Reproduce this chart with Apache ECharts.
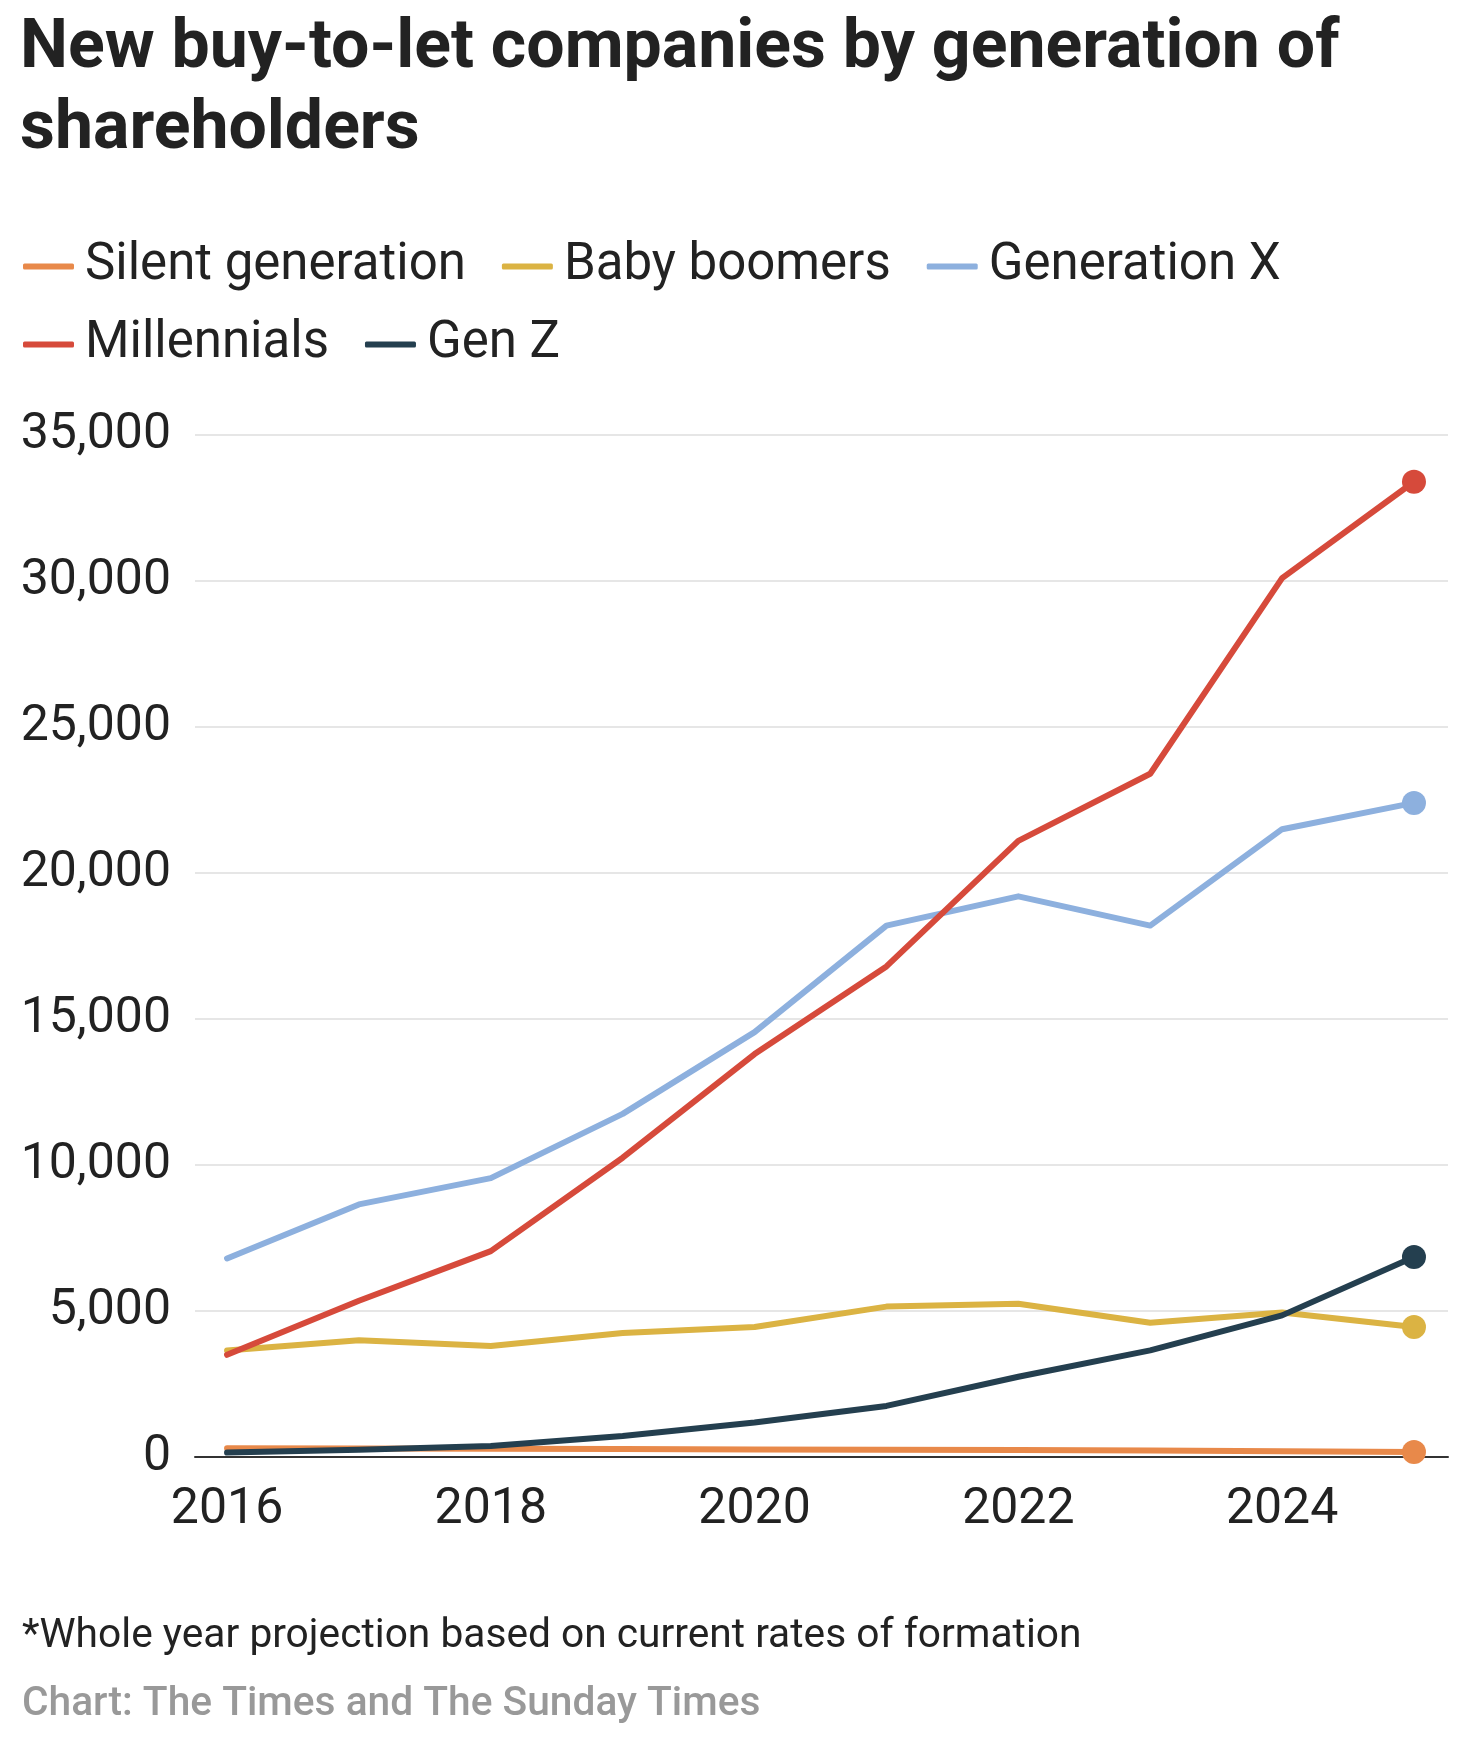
<!DOCTYPE html>
<html>
<head>
<meta charset="utf-8">
<style>
  html, body { margin: 0; padding: 0; background: #ffffff; }
  #chart { width: 1468px; height: 1738px; }
</style>
<script src="https://cdn.jsdelivr.net/npm/echarts@6/dist/echarts.min.js"></script>
</head>
<body>
<div id="chart"></div>
<script>
const years = [2016, 2017, 2018, 2019, 2020, 2021, 2022, 2023, 2024, 2025];
const xTickLabels = [2016, 2018, 2020, 2022, 2024];
const seriesNames = ['Silent generation', 'Baby boomers', 'Generation X', 'Millennials', 'Gen Z'];
const silentGeneration = [300, 290, 280, 270, 260, 250, 240, 220, 200, 170];
const babyBoomers = [3650, 4000, 3800, 4250, 4450, 5150, 5250, 4600, 4950, 4450];
const generationX = [6800, 8650, 9550, 11750, 14550, 18200, 19200, 18200, 21500, 22400];
const millennials = [3500, 5350, 7050, 10250, 13800, 16800, 21100, 23400, 30100, 33400];
const genZ = [150, 250, 380, 720, 1180, 1750, 2750, 3650, 4850, 6850];
const colors = ['#e8894a', '#dbb343', '#8db0de', '#d64a3b', '#243f4f'];

const allValues = [silentGeneration, babyBoomers, generationX, millennials, genZ];
const FONT = 'Roboto';

function buildData(vals) {
  return vals.map((v, i) => ({
    value: [years[i], v],
    symbol: i === vals.length - 1 ? 'circle' : 'none',
    symbolSize: 24
  }));
}

const legendBase = {
  left: 18,
  icon: 'roundRect',
  itemWidth: 51,
  itemHeight: 6,
  itemGap: 36,
  textStyle: { fontFamily: FONT, fontSize: 51, color: '#222222', padding: [0, 0, 0, 6] }
};

const chart = echarts.init(document.getElementById('chart'), null, { renderer: 'canvas' });
chart.setOption({
  backgroundColor: '#ffffff',
  animation: false,
  title: {
    text: 'New buy-to-let companies by generation of\nshareholders',
    left: 15,
    top: 4,
    textStyle: { fontFamily: FONT, fontSize: 68, fontWeight: 'bold', color: '#222222', lineHeight: 81 }
  },
  legend: [
    Object.assign({}, legendBase, { data: seriesNames.slice(0, 3), top: 236 }),
    Object.assign({}, legendBase, { data: seriesNames.slice(3), top: 314 })
  ],
  grid: { left: 195, right: 20, top: 435, bottom: 281, containLabel: false },
  xAxis: {
    type: 'value',
    min: 2015.757,
    max: 2025.258,
    axisLine: { show: true, onZero: true, lineStyle: { color: '#333333', width: 2 } },
    axisTick: { show: false },
    splitLine: { show: false },
    axisLabel: {
      customValues: xTickLabels,
      showMinLabel: true,
      showMaxLabel: true,
      fontFamily: FONT, fontSize: 50, color: '#222222', margin: 28,
      formatter: v => String(v)
    }
  },
  yAxis: {
    type: 'value',
    min: 0,
    max: 35000,
    interval: 5000,
    axisLine: { show: false },
    axisTick: { show: false },
    splitLine: { lineStyle: { color: '#e6e6e6', width: 2 } },
    axisLabel: {
      fontFamily: FONT, fontSize: 50, color: '#222222', margin: 24,
      formatter: v => v.toLocaleString('en-US')
    }
  },
  series: seriesNames.map((name, k) => ({
    name: name,
    type: 'line',
    data: buildData(allValues[k]),
    showSymbol: true,
    color: colors[k],
    lineStyle: { width: 6, color: colors[k], cap: 'round', join: 'round' },
    itemStyle: { color: colors[k] },
    emphasis: { disabled: true },
    z: 2 + k
  })),
  graphic: [
    {
      type: 'text', left: 22, top: 1616,
      style: { text: '*Whole year projection based on current rates of formation', fontFamily: FONT, fontSize: 40.7, fill: '#222222' }
    },
    {
      type: 'text', left: 22, top: 1684,
      style: { text: 'Chart: The Times and The Sunday Times', fontFamily: FONT, fontSize: 40.7, fontWeight: 500, fill: '#999999' }
    }
  ]
});
</script>
</body>
</html>
